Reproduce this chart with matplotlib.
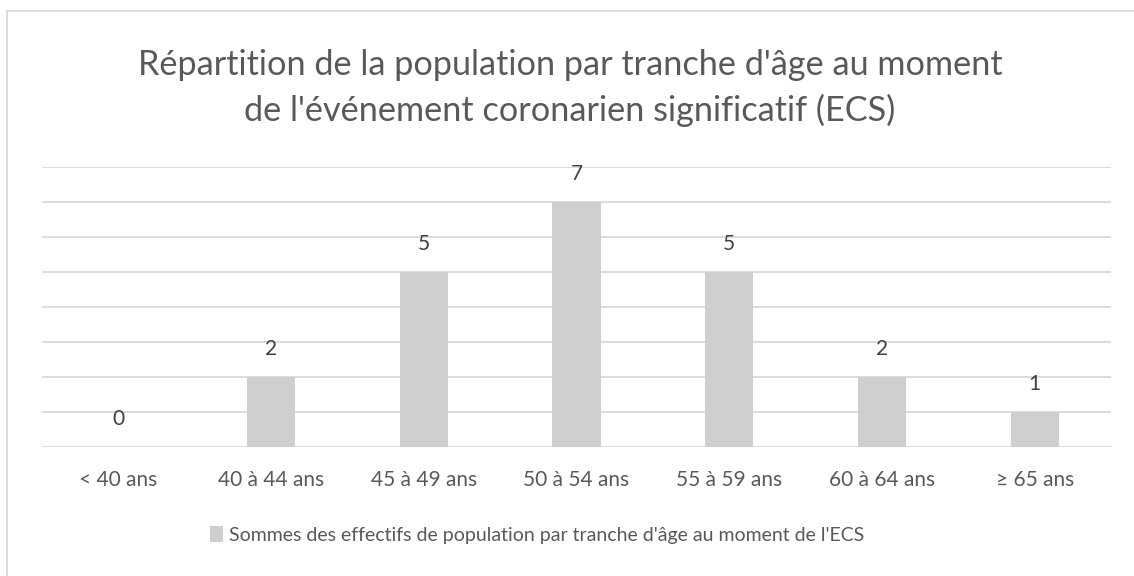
import matplotlib
matplotlib.use("Agg")
import matplotlib.pyplot as plt
from matplotlib.patches import Rectangle
import numpy as np

# data
categories = ["< 40 ans", "40 à 44 ans", "45 à 49 ans", "50 à 54 ans",
              "55 à 59 ans", "60 à 64 ans", "≥ 65 ans"]
effectifs = [0, 2, 5, 7, 5, 2, 1]
series_name = "Sommes des effectifs de population par tranche d'âge au moment de l'ECS"
title = ("Répartition de la population par tranche d'âge au moment\n"
         "de l'événement coronarien significatif (ECS)")

text_col = "#595959"
grid_col = "#D9D9D9"
bar_col = "#D0CECE"

plt.rcParams['font.family'] = ['Lato', 'DejaVu Sans']

W, H = 1134, 576
fig = plt.figure(figsize=(W / 100, H / 100), dpi=100)
ax = fig.add_axes([42 / W, 1 - 447 / H, (1111 - 42) / W, (447 - 167) / H])

x = np.arange(len(categories))
bars = ax.bar(x, effectifs, width=0.315, color=bar_col, label=series_name, zorder=2)

ax.set_xlim(-0.5, len(categories) - 0.5)
ax.set_ylim(0, 8)
ax.set_yticks(range(0, 9))
ax.yaxis.grid(True, color=grid_col, linewidth=1.3, zorder=0)
ax.tick_params(axis='y', left=False, labelleft=False)
ax.tick_params(axis='x', bottom=False, pad=13, labelsize=15, labelcolor=text_col)
ax.set_xticks(x)
ax.set_xticklabels(categories)
for s in ax.spines.values():
    s.set_visible(False)

# data labels
for xi, v in zip(x, effectifs):
    ax.annotate(str(v), (xi, v), xytext=(0, 28), textcoords='offset pixels',
                ha='center', va='center', fontsize=15, color="#404040")

fig.text(0.5 * (137 + 1003) / W, 1 - 88 / H, title, ha='center', va='center',
         fontsize=24.7, color=text_col, linespacing=1.45)

leg = fig.legend(loc='center', bbox_to_anchor=(537 / W, 1 - 535 / H),
                 frameon=False, fontsize=14, handlelength=0.65, handleheight=0.9,
                 handletextpad=0.3, labelcolor=text_col)

# outer chart border
fig.patches.append(Rectangle((7 / W, -0.05), 1.2, (576 - 11) / H + 0.05,
                             transform=fig.transFigure, fill=False,
                             edgecolor=grid_col, linewidth=1.3))

plt.savefig("out.png", dpi=100)
